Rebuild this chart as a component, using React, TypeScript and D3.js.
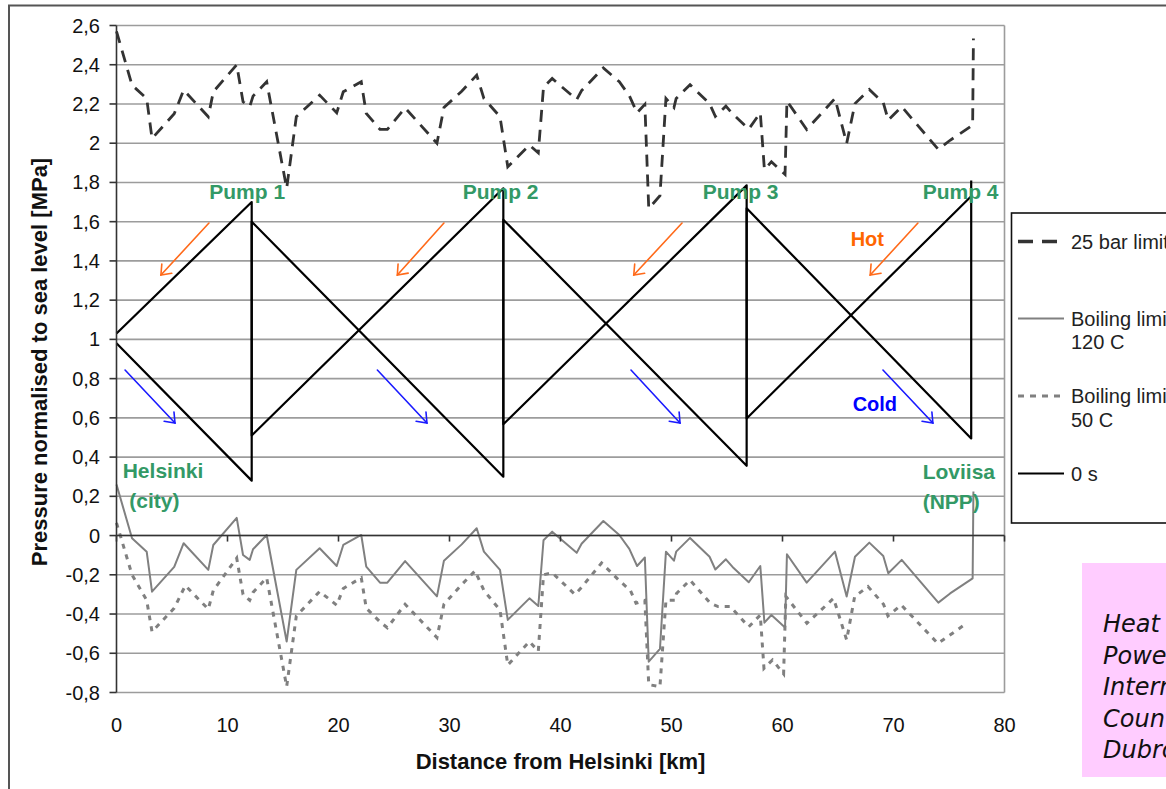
import React from "react";
import * as d3 from "d3";

// ---------- data (km, MPa) ----------
const km120 = [0, 1.4, 2.72, 3.2, 5.2, 6.05, 8.27, 8.72, 10.83, 11.4, 12.0, 12.3, 13.53, 15.33, 16.2, 18.3, 19.84, 20.43, 22.05, 22.5, 23.74, 24.4, 26.0, 28.87, 29.5, 31.1, 32.45, 33.1, 34.55, 35.25, 37.2, 38.0, 38.47, 39.25, 41.46, 41.9, 43.86, 45.3, 46.2, 46.9, 47.6, 47.95, 48.96, 49.5, 50.22, 50.42, 51.67, 53.43, 53.95, 54.9, 55.5, 56.96, 58.0, 58.37, 59.0, 60.23, 60.4, 62.18, 64.73, 65.78, 66.53, 67.82, 69.08, 69.53, 70.74, 74.04, 75.1, 77.13, 77.2];
const boil120 = [0.26, -0.014, -0.082, -0.286, -0.16, -0.039, -0.175, -0.048, 0.09, -0.099, -0.124, -0.07, 0.003, -0.54, -0.175, -0.065, -0.155, -0.048, 0.003, -0.158, -0.24, -0.24, -0.13, -0.31, -0.128, -0.045, 0.037, -0.082, -0.175, -0.43, -0.32, -0.359, -0.024, 0.02, -0.088, -0.042, 0.074, 0.003, -0.068, -0.155, -0.112, -0.643, -0.578, -0.082, -0.128, -0.082, -0.012, -0.108, -0.173, -0.121, -0.16, -0.238, -0.155, -0.444, -0.405, -0.469, -0.095, -0.24, -0.082, -0.311, -0.108, -0.036, -0.104, -0.192, -0.124, -0.342, -0.295, -0.218, 0.224];
const bar25 = [2.57, 2.296, 2.228, 2.024, 2.15, 2.271, 2.135, 2.262, 2.4, 2.211, 2.186, 2.24, 2.313, 1.77, 2.135, 2.245, 2.155, 2.262, 2.313, 2.152, 2.07, 2.07, 2.18, 2.0, 2.182, 2.265, 2.347, 2.228, 2.135, 1.88, 1.99, 1.951, 2.286, 2.33, 2.222, 2.268, 2.384, 2.313, 2.242, 2.155, 2.198, 1.667, 1.732, 2.228, 2.182, 2.228, 2.298, 2.202, 2.137, 2.189, 2.15, 2.072, 2.155, 1.866, 1.905, 1.841, 2.215, 2.07, 2.228, 1.999, 2.202, 2.274, 2.206, 2.118, 2.186, 1.968, 2.015, 2.092, 2.534];

const km50 = [0, 1.4, 2.72, 3.2, 5.2, 6.2, 8.27, 8.72, 10.83, 11.4, 12.0, 12.3, 13.53, 15.33, 16.2, 18.3, 19.84, 20.43, 22.05, 22.5, 23.74, 24.4, 26.0, 28.87, 29.5, 31.1, 32.3, 33.1, 34.55, 35.25, 37.2, 38.0, 38.47, 39.25, 41.3, 41.8, 43.7, 45.3, 46.3, 46.8, 47.6, 47.95, 48.96, 49.5, 50.3, 50.45, 51.67, 53.5, 54.2, 55.3, 56.96, 58.0, 58.33, 59.1, 60.1, 60.3, 62.2, 64.6, 65.78, 66.5, 67.7, 69.1, 69.5, 70.7, 74.0, 76.6];
const boil50 = [0.065, -0.2, -0.33, -0.49, -0.37, -0.255, -0.375, -0.28, -0.115, -0.3, -0.33, -0.29, -0.215, -0.77, -0.41, -0.285, -0.355, -0.27, -0.215, -0.37, -0.44, -0.47, -0.35, -0.52, -0.35, -0.25, -0.18, -0.28, -0.38, -0.66, -0.54, -0.59, -0.2, -0.19, -0.3, -0.27, -0.14, -0.23, -0.28, -0.345, -0.33, -0.76, -0.77, -0.33, -0.33, -0.295, -0.227, -0.345, -0.362, -0.362, -0.465, -0.405, -0.677, -0.634, -0.705, -0.31, -0.447, -0.32, -0.532, -0.311, -0.26, -0.35, -0.41, -0.354, -0.55, -0.447];

// 0 s: cold (outgoing) and hot (return) pressure lines
const coldKm = [0, 12.18, 12.18, 34.85, 34.85, 56.77, 56.77, 77.0, 77.0];
const coldV = [0.98, 0.28, 1.6, 0.3, 1.61, 0.356, 1.668, 0.495, 1.81];
const hotKm = [0, 12.18, 12.18, 34.85, 34.85, 56.77, 56.77, 77.0];
const hotV = [1.03, 1.7, 0.51, 1.77, 0.567, 1.785, 0.597, 1.73];

const yTickValues = [2.6, 2.4, 2.2, 2.0, 1.8, 1.6, 1.4, 1.2, 1.0, 0.8, 0.6, 0.4, 0.2, 0, -0.2, -0.4, -0.6, -0.8];
const yTickLabels = ["2,6", "2,4", "2,2", "2", "1,8", "1,6", "1,4", "1,2", "1", "0,8", "0,6", "0,4", "0,2", "0", "-0,2", "-0,4", "-0,6", "-0,8"];
const xTickValues = [0, 10, 20, 30, 40, 50, 60, 70, 80];
const xTickLabels = ["0", "10", "20", "30", "40", "50", "60", "70", "80"];

const pumpLabels = ["Pump 1", "Pump 2", "Pump 3", "Pump 4"];
const pumpLabelKm = [8.36, 31.19, 52.81, 72.63];

// arrows: [km0, v0, km1, v1]
const hotArrows = [
  [8.33, 1.593, 4.0, 1.328],
  [29.5, 1.593, 25.3, 1.328],
  [50.95, 1.593, 46.6, 1.328],
  [72.2, 1.593, 67.9, 1.328],
];
const coldArrows = [
  [0.77, 0.844, 5.27, 0.574],
  [23.5, 0.844, 27.97, 0.574],
  [46.35, 0.844, 50.77, 0.574],
  [69.05, 0.844, 73.55, 0.574],
];

const legendLabels = [["25 bar limit"], ["Boiling limit", "120 C"], ["Boiling limit", "50 C"], ["0 s"]];
const noteLines = ["Heat", "Power", "International", "Countries", "Dubrovnik"];

// ---------- layout ----------
const W = 1166;
const H = 789;
const FONT = "'Liberation Sans', Arial, Helvetica, sans-serif";
const GREEN = "#339966";

const x = d3.scaleLinear().domain([0, 80]).range([116.5, 1004.5]);
const y = d3.scaleLinear().domain([-0.8, 2.6]).range([692.5, 25.5]);

const zip = (a: number[], b: number[]) => a.map((k, i) => [k, b[i]] as [number, number]);
const lineGen = d3
  .line<[number, number]>()
  .x((d) => x(d[0]))
  .y((d) => y(d[1]));

function Arrow({ a, color }: { a: number[]; color: string }) {
  const x0 = x(a[0]), y0 = y(a[1]), x1 = x(a[2]), y1 = y(a[3]);
  const ang = Math.atan2(y0 - y1, x0 - x1);
  const L = 11, spread = (38 * Math.PI) / 180;
  const h1 = [x1 + L * Math.cos(ang + spread), y1 + L * Math.sin(ang + spread)];
  const h2 = [x1 + L * Math.cos(ang - spread), y1 + L * Math.sin(ang - spread)];
  return (
    <g stroke={color} strokeWidth={1.6} fill="none" strokeLinecap="round">
      <line x1={x0} y1={y0} x2={x1} y2={y1} />
      <polyline points={`${h1[0]},${h1[1]} ${x1},${y1} ${h2[0]},${h2[1]}`} />
    </g>
  );
}

export default function App() {
  const plotLeft = x(0), plotRight = x(80), plotTop = y(2.6), plotBottom = y(-0.8);
  const legX = 1011.5, legTop = 213, legBottom = 523;
  const legLineY = [241.5, 318.5, 396, 473.5];
  const legStyles = [
    { stroke: "#333", width: 3.5, dash: "15,9" },
    { stroke: "#808080", width: 2, dash: "none" },
    { stroke: "#808080", width: 3, dash: "6,6" },
    { stroke: "#000", width: 2.2, dash: "none" },
  ];

  return (
    <svg
      width={W}
      height={H}
      style={{ position: "absolute", left: 0, top: 0, background: "#fff", display: "block" }}
      fontFamily={FONT}
    >
      <rect x={0} y={0} width={W} height={H} fill="#fff" />
      {/* outer frame */}
      <rect x={9} y={5.5} width={1400} height={1000} fill="none" stroke="#555" strokeWidth={2} />

      {/* gridlines */}
      {yTickValues.map((v, i) => (
        <line key={"g" + i} x1={plotLeft} x2={plotRight} y1={y(v)} y2={y(v)} stroke="#9c9c9c" strokeWidth={1.6} />
      ))}
      <line x1={plotRight} x2={plotRight} y1={plotTop} y2={plotBottom} stroke="#9c9c9c" strokeWidth={1.6} />

      {/* series */}
      <path d={lineGen(zip(km120, bar25)) || ""} fill="none" stroke="#333" strokeWidth={2.8} strokeDasharray="12,8" />
      <path d={lineGen(zip(km120, boil120)) || ""} fill="none" stroke="#808080" strokeWidth={2} strokeLinejoin="round" />
      <path d={lineGen(zip(km50, boil50)) || ""} fill="none" stroke="#808080" strokeWidth={3} strokeDasharray="5,6" />
      <path d={lineGen(zip(coldKm, coldV)) || ""} fill="none" stroke="#000" strokeWidth={2.2} strokeLinejoin="round" />
      <path d={lineGen(zip(hotKm, hotV)) || ""} fill="none" stroke="#000" strokeWidth={2.2} strokeLinejoin="round" />

      {/* axes */}
      <line x1={plotLeft} x2={plotLeft} y1={plotTop} y2={plotBottom} stroke="#333" strokeWidth={1.6} />
      <line x1={plotLeft} x2={plotRight} y1={y(0)} y2={y(0)} stroke="#333" strokeWidth={1.6} />
      {yTickValues.map((v, i) => (
        <g key={"yt" + i}>
          <line x1={plotLeft - 7} x2={plotLeft} y1={y(v)} y2={y(v)} stroke="#333" strokeWidth={1.6} />
          <text x={100} y={y(v) + 7} textAnchor="end" fontSize={20} fill="#111">
            {yTickLabels[i]}
          </text>
        </g>
      ))}
      {xTickValues.map((v, i) => (
        <g key={"xt" + i}>
          <line x1={x(v)} x2={x(v)} y1={y(0)} y2={y(0) + 6} stroke="#333" strokeWidth={1.6} />
          <text x={x(v)} y={732} textAnchor="middle" fontSize={20} fill="#111">
            {xTickLabels[i]}
          </text>
        </g>
      ))}
      <text x={560.5} y={769} textAnchor="middle" fontSize={22} fontWeight="bold" fill="#111">
        Distance from Helsinki [km]
      </text>
      <text
        transform={`translate(47,${(plotTop + plotBottom) / 2 + 3}) rotate(-90)`}
        textAnchor="middle"
        fontSize={22}
        fontWeight="bold"
        fill="#111"
      >
        Pressure normalised to sea level [MPa]
      </text>

      {/* annotations */}
      {pumpLabels.map((p, i) => (
        <text key={p} x={x(pumpLabelKm[i])} y={y(1.714)} fontSize={21} fontWeight="bold" fill={GREEN}>
          {p}
        </text>
      ))}
      <text x={x(0.56)} y={y(0.292)} fontSize={21} fontWeight="bold" fill={GREEN}>Helsinki</text>
      <text x={x(1.15)} y={y(0.141)} fontSize={21} fontWeight="bold" fill={GREEN}>(city)</text>
      <text x={x(72.63)} y={y(0.288)} fontSize={21} fontWeight="bold" fill={GREEN}>Loviisa</text>
      <text x={x(72.63)} y={y(0.136)} fontSize={21} fontWeight="bold" fill={GREEN}>(NPP)</text>
      <text x={x(66.14)} y={y(1.476)} fontSize={20} fontWeight="bold" fill="#FF6600">Hot</text>
      <text x={x(66.32)} y={y(0.635)} fontSize={20} fontWeight="bold" fill="#0000FF">Cold</text>
      {hotArrows.map((a, i) => (
        <Arrow key={"ha" + i} a={a} color="#FF6A1A" />
      ))}
      {coldArrows.map((a, i) => (
        <Arrow key={"ca" + i} a={a} color="#1A1AFF" />
      ))}

      {/* legend */}
      <rect x={legX} y={legTop} width={400} height={legBottom - legTop} fill="#fff" stroke="#111" strokeWidth={1.6} />
      {legendLabels.map((lines, i) => (
        <g key={"lg" + i}>
          <line
            x1={1018}
            x2={1064}
            y1={legLineY[i]}
            y2={legLineY[i]}
            stroke={legStyles[i].stroke}
            strokeWidth={legStyles[i].width}
            strokeDasharray={legStyles[i].dash}
          />
          {lines.map((t, j) => (
            <text key={j} x={1071} y={legLineY[i] + 7 + j * 23.5} fontSize={20} fill="#222">
              {t}
            </text>
          ))}
        </g>
      ))}

      {/* note box */}
      <rect x={1082} y={563} width={200} height={214} fill="#FFCCFF" />
      {noteLines.map((t, i) => (
        <text
          key={"n" + i}
          x={1103}
          y={632 + i * 31.5}
          fontSize={24}
          fontStyle="italic"
          fontFamily="'DejaVu Sans', sans-serif"
          fill="#111"
        >
          {t}
        </text>
      ))}
    </svg>
  );
}
